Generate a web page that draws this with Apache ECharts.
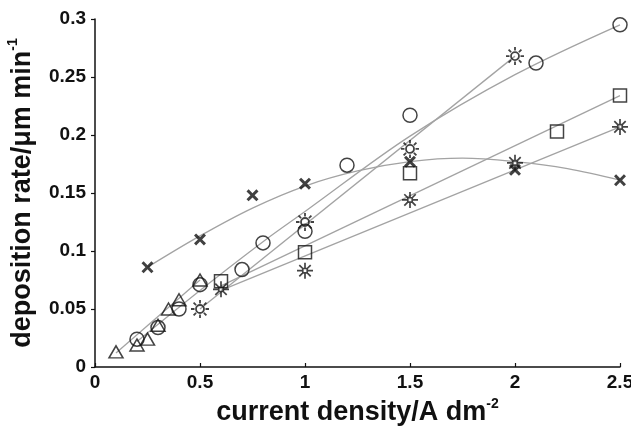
<!DOCTYPE html>
<html>
<head>
<meta charset="utf-8">
<script src="https://cdn.jsdelivr.net/npm/echarts@6/dist/echarts.min.js"></script>
<style>
html,body{margin:0;padding:0;background:#fff;}
#chart{width:631px;height:427px;}
</style>
</head>
<body>
<div id="chart"></div>
<script>
// ---- data ----
const xTicks = [0, 0.5, 1, 1.5, 2, 2.5];
const yTicks = [0, 0.05, 0.1, 0.15, 0.2, 0.25, 0.3];

const triangleData = [[0.1,0.013],[0.2,0.019],[0.25,0.024],[0.3,0.036],[0.35,0.050],[0.4,0.058],[0.5,0.075]];
const circleData   = [[0.2,0.024],[0.3,0.034],[0.4,0.050],[0.5,0.071],[0.7,0.084],[0.8,0.107],[1.0,0.117],[1.2,0.174],[1.5,0.217],[2.1,0.262],[2.5,0.295]];
const squareData   = [[0.6,0.074],[1.0,0.099],[1.5,0.167],[2.2,0.203],[2.5,0.234]];
const sunData      = [[0.5,0.050],[1.0,0.125],[1.5,0.188],[2.0,0.268]];
const starData     = [[0.6,0.067],[1.0,0.083],[1.5,0.144],[2.0,0.176],[2.5,0.207]];
const crossData    = [[0.25,0.086],[0.5,0.110],[0.75,0.148],[1.0,0.158],[1.5,0.177],[2.0,0.170],[2.5,0.161]];

// trend lines as they appear in the picture
const triangleFit = [[0.1,0.012],[0.5,0.075]];
const circleFit   = [[0.2,0.022],[0.5,0.066],[0.8,0.108],[1.0,0.134],[1.5,0.199],[2.0,0.252],[2.5,0.295]];
const sunFit      = [[0.5,0.050],[2.0,0.268]];
const squareFit   = [[0.6,0.070],[2.5,0.234]];
const starFit     = [[0.6,0.066],[2.5,0.207]];
const crossFit    = [[0.25,0.086],[0.5,0.113],[0.75,0.137],[1.0,0.156],[1.25,0.169],[1.5,0.177],[1.75,0.180],[2.0,0.177],[2.25,0.171],[2.5,0.161]];

// ---- symbols ----
const SUN = 'path://M14,10A4,4,0,1,1,6,10A4,4,0,1,1,14,10Z' +
  'M15.5,10L19,10M13.9,13.9L16.4,16.4M10,15.5L10,19M6.1,13.9L3.6,16.4' +
  'M4.5,10L1,10M6.1,6.1L3.6,3.6M10,4.5L10,1M13.9,6.1L16.4,3.6';
const STAR = 'path://M7.5,7.5L12.5,7.5L12.5,12.5L7.5,12.5Z' +
  'M10,7.5L10,1M10,12.5L10,19M7.5,10L1,10M12.5,10L19,10' +
  'M7.5,7.5L3.6,3.6M12.5,7.5L16.4,3.6M7.5,12.5L3.6,16.4M12.5,12.5L16.4,16.4';
const CROSS = 'path://M0,3.5L3.5,0L10,6.5L16.5,0L20,3.5L13.5,10L20,16.5L16.5,20L10,13.5L3.5,20L0,16.5L6.5,10Z';

const FONT = '"Liberation Sans", Arial, sans-serif';
const lineColor = '#a3a3a3';
const markColor = '#141414';
const TXT = '#111';

function fitLine(data, smooth) {
  return {
    type: 'line', data: data, smooth: smooth ? 0.35 : false,
    symbol: 'none', silent: true, z: 1,
    lineStyle: { color: lineColor, width: 1.3 }
  };
}
function hollow(data, symbol, size, bw) {
  return {
    type: 'scatter', data: data, symbol: symbol, symbolSize: size, z: 3,
    itemStyle: { color: 'rgba(0,0,0,0)', borderColor: markColor, borderWidth: bw || 1.5 }
  };
}
function titleStyle() {
  return {
    fontFamily: FONT, fontSize: 27, fontWeight: 'bold', color: TXT, lineHeight: 32,
    rich: { sup: { fontFamily: FONT, fontSize: 14, fontWeight: 'bold', color: TXT, verticalAlign: 'top', lineHeight: 18 } }
  };
}

const chart = echarts.init(document.getElementById('chart'), null, { renderer: 'canvas' });
chart.setOption({
  animation: false,
  backgroundColor: '#ffffff',
  grid: { left: 95, right: 11, top: 19, bottom: 60, containLabel: false, outerBoundsMode: 'none' },
  xAxis: {
    type: 'value', min: xTicks[0], max: xTicks[xTicks.length - 1], interval: 0.5,
    name: 'current density/A dm{sup|-2}',
    nameLocation: 'middle', nameGap: 26,
    nameTextStyle: titleStyle(),
    axisLine: { show: true, lineStyle: { color: TXT, width: 1.5 } },
    axisTick: { show: true, inside: true, length: 4, lineStyle: { color: TXT, width: 1.2 } },
    axisLabel: { margin: 6, fontFamily: FONT, fontSize: 19, fontWeight: 'bold', color: TXT },
    splitLine: { show: false }
  },
  yAxis: {
    type: 'value', min: yTicks[0], max: yTicks[yTicks.length - 1], interval: 0.05,
    name: 'deposition rate/μm min{sup|-1}',
    nameLocation: 'middle', nameGap: 52,
    nameTextStyle: titleStyle(),
    axisLine: { show: true, lineStyle: { color: TXT, width: 1.5 } },
    axisTick: { show: true, inside: false, length: 4, lineStyle: { color: TXT, width: 1.2 } },
    axisLabel: { margin: 9, fontFamily: FONT, fontSize: 19, fontWeight: 'bold', color: TXT },
    splitLine: { show: false }
  },
  series: [
    fitLine(triangleFit, false),
    fitLine(circleFit, true),
    fitLine(sunFit, false),
    fitLine(squareFit, false),
    fitLine(starFit, false),
    fitLine(crossFit, true),
    hollow(triangleData, 'triangle', [14, 12]),
    hollow(circleData, 'circle', 14),
    hollow(squareData, 'rect', 13),
    hollow(sunData, SUN, 18, 1.8),
    hollow(starData, STAR, 16, 1.7),
    {
      type: 'scatter', data: crossData, symbol: CROSS, symbolSize: 12, z: 4,
      itemStyle: { color: '#111', borderWidth: 0 }
    }
  ]
});
</script>
</body>
</html>
